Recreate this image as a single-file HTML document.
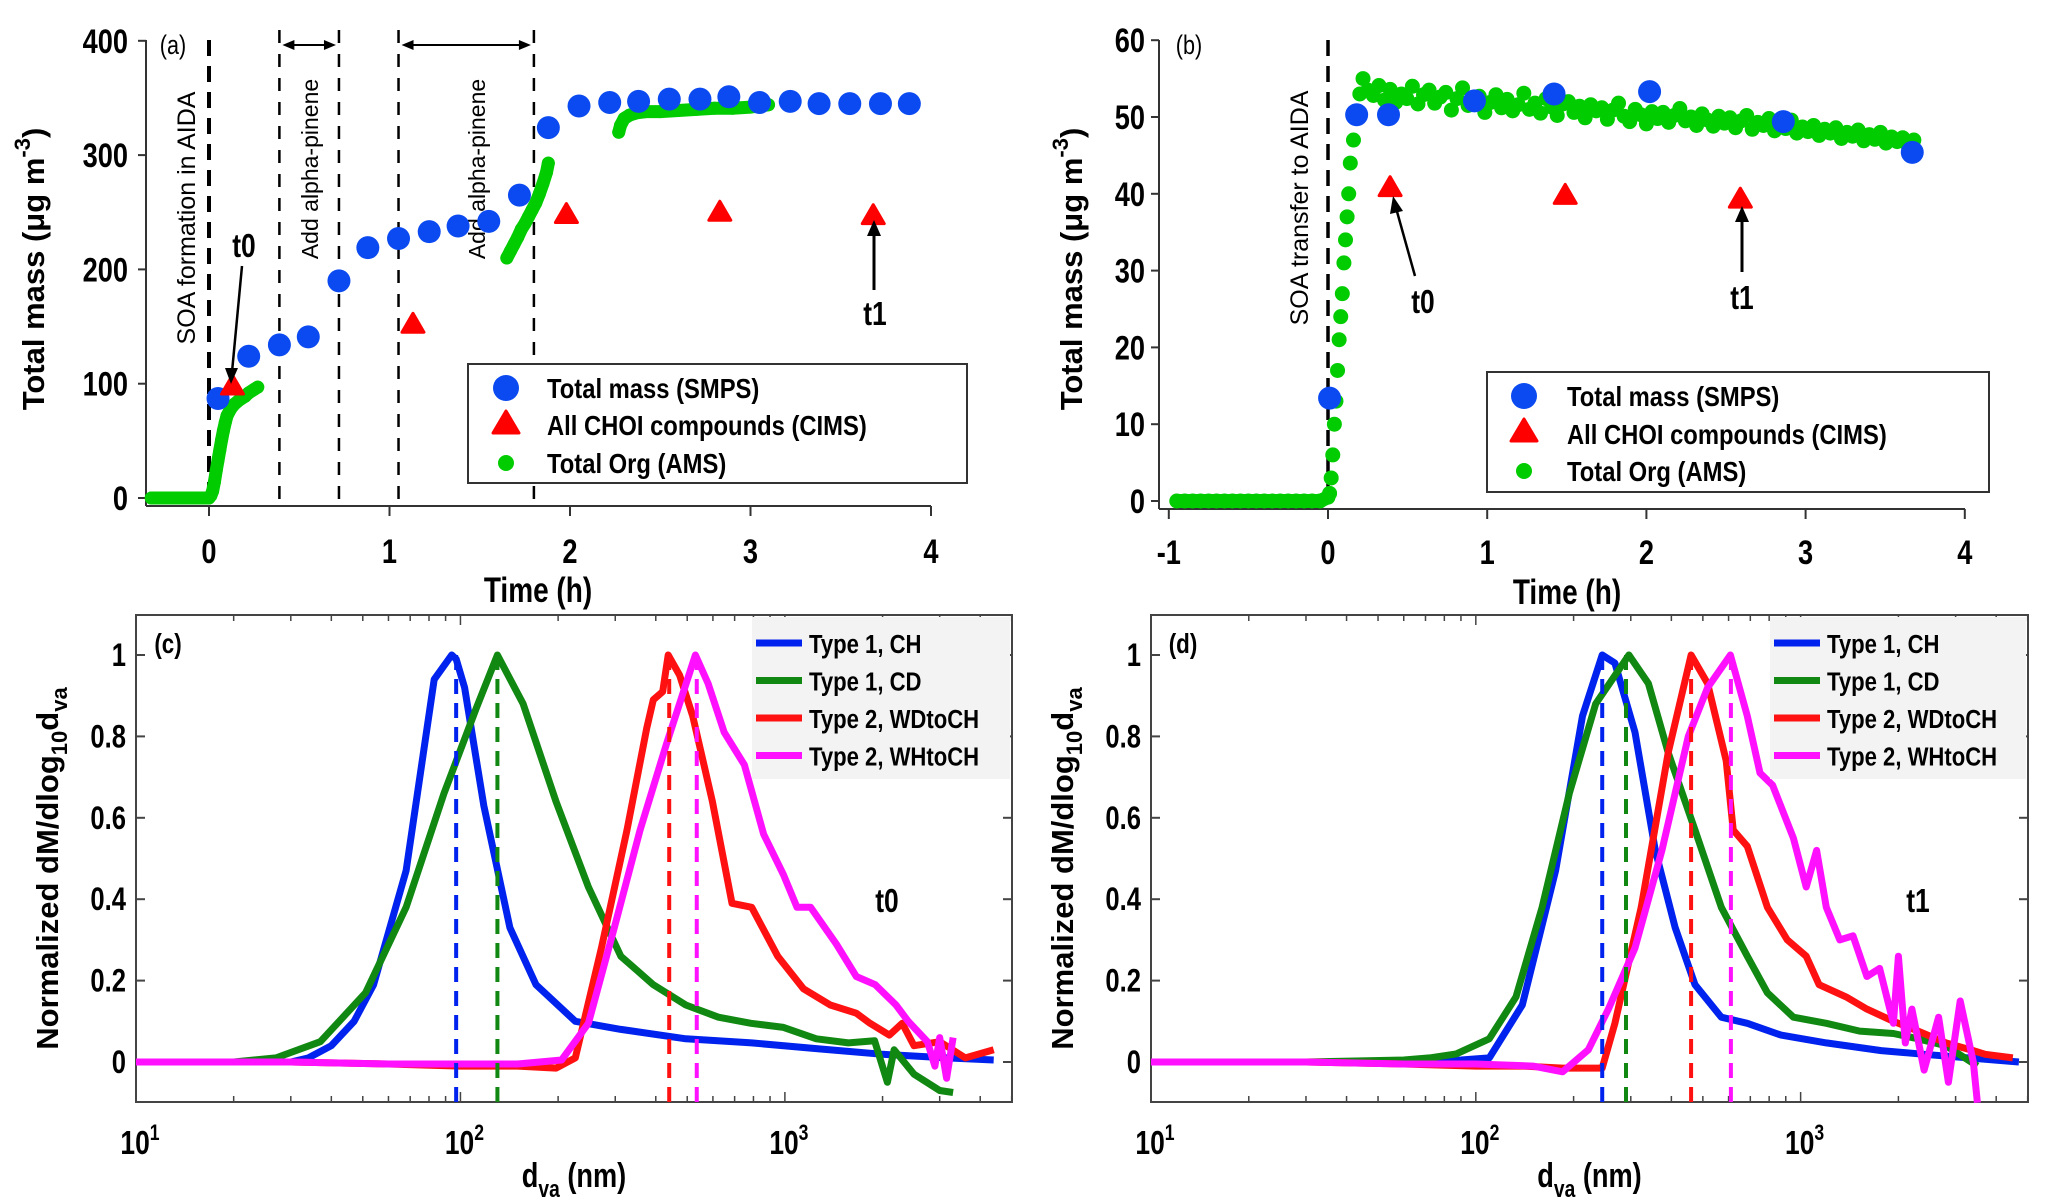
<!DOCTYPE html>
<html><head><meta charset="utf-8"><style>
html,body{margin:0;padding:0;background:#fff;}
svg{display:block;font-family:"Liberation Sans",Arial,sans-serif;}
</style></head><body>
<svg id="fig" width="2067" height="1204" viewBox="0 0 2067 1204" xmlns="http://www.w3.org/2000/svg"></svg>
<script>
// ---------- Panel (a) data ----------
const smpsATime=[0.05,0.22,0.39,0.55,0.72,0.88,1.05,1.22,1.38,1.55,1.72,1.88,2.05,2.22,2.38,2.55,2.72,2.88,3.05,3.22,3.38,3.55,3.72,3.88];
const smpsAVal=[87,124,134,141,190,219,227,233,238,242,265,324,343,346,347,349,349,351,346,347,345,345,345,345];
const cimsATime=[0.13,1.13,1.98,2.83,3.68];
const cimsAVal=[98,152,248,250,247];
const amsATime=[-0.32,-0.28,-0.24,-0.2,-0.16,-0.12,-0.08,-0.04,0,0.01,0.02,0.03,0.04,0.05,0.06,0.07,0.08,0.09,0.1,0.12,0.14,0.17,0.2,0.22,0.25,0.27,
 1.65,1.67,1.69,1.71,1.73,1.75,1.77,1.79,1.81,1.83,1.85,1.87,1.88,
 2.27,2.28,2.3,2.33,2.37,2.42,2.5,2.6,2.7,2.8,2.9,3.0,3.05,3.1];
const amsAVal=[0,0,0,0,0,0,0,0,0,2,6,14,24,33,42,51,59,66,72,78,82,86,89,92,95,97,
 210,216,222,228,235,240,246,252,258,266,275,285,293,
 320,326,332,335,337,338,338,339,340,341,341,342,343,344];
const eventsA=[0,0.39,0.72,1.05,1.8];
const yTicksA=[0,100,200,300,400];
const xTicksA=[0,1,2,3,4];
// ---------- Panel (b) data ----------
const smpsBTime=[0.01,0.18,0.38,0.92,1.42,2.02,2.86,3.67];
const smpsBVal=[13.4,50.3,50.3,52.1,53.0,53.3,49.4,45.4];
const cimsBTime=[0.39,1.49,2.59];
const cimsBVal=[40.8,39.8,39.3];
const amsBTime=[-0.95,-0.9,-0.85,-0.8,-0.75,-0.7,-0.65,-0.6,-0.55,-0.5,-0.45,-0.4,-0.35,-0.3,-0.25,-0.2,-0.15,-0.1,-0.05,0,0.01,0.02,0.03,0.04,0.05,0.06,0.07,0.08,0.09,0.1,0.11,0.12,0.13,0.14,0.16,0.18,0.2,0.22,
0.25,0.285,0.32,0.355,0.39,0.425,0.46,0.495,0.53,0.565,
0.6,0.635,0.67,0.705,0.74,0.775,0.81,0.845,0.88,0.915,
0.95,0.985,1.02,1.055,1.09,1.125,1.16,1.195,1.23,1.265,
1.3,1.335,1.37,1.405,1.44,1.475,1.51,1.545,1.58,1.615,
1.65,1.685,1.72,1.755,1.79,1.825,1.86,1.895,1.93,1.965,
2.0,2.035,2.07,2.105,2.14,2.175,2.21,2.245,2.28,2.315,
2.35,2.385,2.42,2.455,2.49,2.525,2.56,2.595,2.63,2.665,
2.7,2.735,2.77,2.805,2.84,2.875,2.91,2.945,2.98,3.015,
3.05,3.085,3.12,3.155,3.19,3.225,3.26,3.295,3.33,3.365,
3.4,3.435,3.47,3.505,3.54,3.575,3.61,3.645,3.68];
const amsBVal=[0,0,0,0,0,0,0,0,0,0,0,0,0,0,0,0,0,0,0,0.5,1,3,6,10,13,17,21,24,27,31,34,37,40,44,47,50,53,55,
53.5,52.8,54.1,52.2,53.6,51.9,53.0,52.4,54.0,51.7,
52.9,53.5,51.8,52.6,53.2,50.9,52.4,53.8,51.5,52.1,
52.7,50.6,51.9,52.9,51.2,52.3,50.8,51.6,53.1,51.0,
51.8,50.5,52.4,51.3,50.2,51.7,52.0,50.6,51.4,49.9,
51.6,50.8,51.2,49.7,50.9,51.8,50.1,49.4,51.0,50.3,
49.1,50.7,49.8,50.6,49.3,50.2,51.1,49.5,50.0,48.9,
50.4,49.6,48.8,50.1,49.2,49.9,48.6,49.5,50.2,48.4,
49.3,48.9,49.8,48.2,49.0,48.5,49.6,47.9,48.7,48.1,
48.9,47.6,48.4,47.9,48.6,47.2,48.0,47.5,48.3,46.9,
47.7,47.1,48.0,46.6,47.4,46.8,47.3,46.2,47.0];
const yTicksB=[0,10,20,30,40,50,60];
const xTicksB=[-1,0,1,2,3,4];
// ---------- Panel (c) data (t0) ----------
const cBlueD=[10,20,30,34,40,47,54,68,83,94,97,103,118,142,171,226,312,495,790,1250,2000,3150,4400];
const cBlueV=[0,0,0,0.01,0.04,0.10,0.19,0.47,0.94,1.0,0.99,0.92,0.63,0.33,0.19,0.10,0.08,0.057,0.047,0.033,0.019,0.01,0.005];
const cGreenD=[10,20,27,37,51,68,89,112,130,156,197,248,312,393,495,624,786,990,1250,1570,1890,2070,2170,2500,3000,3300];
const cGreenV=[0,0,0.01,0.05,0.17,0.38,0.66,0.87,1.0,0.88,0.64,0.43,0.26,0.19,0.14,0.11,0.095,0.085,0.057,0.047,0.052,-0.05,0.03,-0.03,-0.07,-0.075];
const cRedD=[10,30,60,100,150,197,226,272,326,375,393,420,437,474,520,598,687,790,950,1140,1380,1660,1830,2100,2300,2500,3000,3600,4400];
const cRedV=[0,0,-0.005,-0.01,-0.01,-0.015,0.01,0.28,0.57,0.82,0.89,0.91,1.0,0.95,0.85,0.64,0.39,0.38,0.26,0.18,0.14,0.12,0.095,0.066,0.095,0.04,0.05,0.01,0.03];
const cMagD=[10,30,60,100,150,205,248,298,358,431,530,580,650,750,860,990,1090,1200,1440,1660,1900,2200,2400,2750,2900,3000,3150,3300];
const cMagV=[0,0,-0.005,-0.005,-0.005,0.005,0.095,0.33,0.57,0.78,1.0,0.93,0.81,0.73,0.56,0.46,0.38,0.38,0.29,0.21,0.19,0.14,0.10,0.05,-0.01,0.06,-0.04,0.06];
const cModes=[97,130,440,535];
// ---------- Panel (d) data (t1) ----------
const dBlueD=[10,30,60,90,110,139,176,213,245,268,309,357,411,473,570,685,870,1200,1770,2400,4700];
const dBlueV=[0,0,0,0.005,0.01,0.14,0.47,0.85,1.0,0.98,0.81,0.52,0.33,0.19,0.11,0.095,0.066,0.047,0.028,0.019,0];
const dGreenD=[10,30,60,72,87,110,133,160,194,234,296,340,391,473,570,685,790,950,1200,1520,1930,2300,2800,3500];
const dGreenV=[0,0,0.005,0.01,0.02,0.057,0.16,0.38,0.66,0.88,1.0,0.93,0.76,0.57,0.38,0.26,0.17,0.11,0.095,0.076,0.07,0.057,0.04,-0.01];
const dRedD=[10,30,60,100,140,185,245,268,323,391,460,517,590,620,685,790,910,1040,1140,1380,1600,1930,2300,2800,3400,3700,4500];
const dRedV=[0,0,-0.005,-0.01,-0.01,-0.015,-0.015,0.095,0.38,0.76,1.0,0.93,0.74,0.57,0.53,0.38,0.30,0.26,0.19,0.16,0.13,0.10,0.076,0.047,0.028,0.019,0.01];
const dMagD=[10,30,60,100,150,185,222,256,309,374,451,517,608,685,750,820,950,1040,1120,1200,1320,1450,1600,1750,1930,2000,2100,2200,2400,2660,2850,3100,3400,3500];
const dMagV=[0,0,-0.005,-0.005,-0.01,-0.024,0.03,0.13,0.28,0.52,0.8,0.92,1.0,0.85,0.71,0.68,0.55,0.43,0.52,0.38,0.30,0.31,0.21,0.23,0.095,0.26,0.047,0.13,-0.02,0.11,-0.05,0.15,0,-0.1];
const dModes=[245,290,460,610];
const yTicksCD=[0,0.2,0.4,0.6,0.8,1];
const yTickLabelsCD=["0","0.2","0.4","0.6","0.8","1"];
const xDecades=[1,2,3];

// ---------- helpers ----------
const NS="http://www.w3.org/2000/svg";
const svg=document.getElementById('fig');
function mk(tag,attrs,parent){const e=document.createElementNS(NS,tag);for(const k in attrs)e.setAttribute(k,attrs[k]);(parent||svg).appendChild(e);return e;}
function grp(name){const g=mk('g',{});


return g;}
function txt(parent,x,y,s,size,opts){opts=opts||{};
 const sx=opts.sx||0.84;const rot=opts.rot||0;
 const t=mk('text',{transform:`translate(${x},${y}) rotate(${rot}) scale(${sx},1)`,'font-size':size,'font-weight':opts.w||'bold','text-anchor':opts.a||'middle',fill:'#000'},parent);
 t.textContent=s;return t;}

// ---------- Panel (a) ----------
(function(){
 const g=grp('panel-a');
 const xa=t=>209+180.5*t, ya=v=>498-1.143*v;
 mk('line',{x1:146,y1:40,x2:146,y2:506,stroke:'#333','stroke-width':2},g);
 mk('line',{x1:146,y1:506,x2:931,y2:506,stroke:'#333','stroke-width':2},g);
 yTicksA.forEach(v=>{mk('line',{x1:138,y1:ya(v),x2:146,y2:ya(v),stroke:'#333','stroke-width':2},g);
  txt(g,128,ya(v)+12,String(v),34,{a:'end',sx:0.8});});
 xTicksA.forEach(t=>{mk('line',{x1:xa(t),y1:506,x2:xa(t),y2:516,stroke:'#333','stroke-width':2},g);
  txt(g,xa(t),563,String(t),34,{sx:0.8});});
 txt(g,538,602,'Time (h)',35,{sx:0.8});
 const yl=txt(g,44,269,'',31,{rot:-90,sx:1});
 yl.innerHTML='Total mass (μg m<tspan font-size="22" dy="-14">-3</tspan><tspan dy="14">)</tspan>';
 txt(g,173,54,'(a)',27,{sx:0.8,w:'normal'});
 eventsA.forEach((t,i)=>{const l=mk('line',{x1:xa(t),y1:i===0?40:30,x2:xa(t),y2:i===0?498:506,stroke:'#000','stroke-width':i===0?4:2.5,'stroke-dasharray':i===0?'16,10':'13,11'},g);
  
  });
 [[0.39,0.72],[1.05,1.8]].forEach(p=>{const y=45,x1=xa(p[0])+3,x2=xa(p[1])-3;
  mk('line',{x1:x1+8,y1:y,x2:x2-8,y2:y,stroke:'#000','stroke-width':2},g);
  mk('polygon',{points:`${x1},${y} ${x1+12},${y-5} ${x1+12},${y+5}`,fill:'#000'},g);
  mk('polygon',{points:`${x2},${y} ${x2-12},${y-5} ${x2-12},${y+5}`,fill:'#000'},g);});
 txt(g,195,218,'SOA formation in AIDA',25,{rot:-90,w:'normal',sx:1});
 txt(g,318,169,'Add alpha-pinene',23,{rot:-90,w:'normal',sx:1});
 txt(g,485,169,'Add alpha-pinene',23,{rot:-90,w:'normal',sx:1});
 amsATime.forEach((t,i)=>{const c=mk('circle',{cx:xa(t),cy:ya(amsAVal[i]),r:6.5,fill:'#00cc00'},g);
  
  });
 [[0,25],[26,38],[39,52]].forEach(s=>{let pts=[];for(let i=s[0];i<=s[1];i++)pts.push(xa(amsATime[i])+','+ya(amsAVal[i]));
  mk('polyline',{points:pts.join(' '),fill:'none',stroke:'#00cc00','stroke-width':13,'stroke-linecap':'round','stroke-linejoin':'round'},g);});
 smpsATime.forEach((t,i)=>{const c=mk('circle',{cx:xa(t),cy:ya(smpsAVal[i]),r:11.5,fill:'#0a4af0'},g);
  
  });
 cimsATime.forEach((t,i)=>{const x=xa(t),y=ya(cimsAVal[i]);const p=mk('polygon',{points:`${x},${y-11} ${x+11},${y+8} ${x-11},${y+8}`,fill:'#f00',stroke:'#f00','stroke-width':3,'stroke-linejoin':'round'},g);
  
  });
 txt(g,244,257,'t0',33,{sx:0.8});
 mk('line',{x1:242,y1:266,x2:232,y2:372,stroke:'#000','stroke-width':2.5},g);
 mk('polygon',{points:'231,384 225,368 238,368',fill:'#000'},g);
 txt(g,875,325,'t1',33,{sx:0.8});
 mk('line',{x1:874,y1:290,x2:874,y2:232,stroke:'#000','stroke-width':3},g);
 mk('polygon',{points:'874,220 867,236 881,236',fill:'#000'},g);
 const lg=grp('legend-a');g.appendChild(lg);
 mk('rect',{x:468,y:364,width:499,height:119,fill:'#fff',stroke:'#333','stroke-width':2},lg);
 mk('circle',{cx:506,cy:388,r:13,fill:'#0a4af0'},lg);
 mk('polygon',{points:'506,411 519,433 493,433',fill:'#f00',stroke:'#f00','stroke-width':3,'stroke-linejoin':'round'},lg);
 mk('circle',{cx:506,cy:463,r:8,fill:'#00cc00'},lg);
 txt(lg,547,398,'Total mass (SMPS)',28,{a:'start',sx:0.85});
 txt(lg,547,435,'All CHOI compounds (CIMS)',28,{a:'start',sx:0.85});
 txt(lg,547,473,'Total Org (AMS)',28,{a:'start',sx:0.85});
})();

// ---------- Panel (b) ----------
(function(){
 const g=grp('panel-b');
 const xb=t=>1328+159.2*t, yb=v=>501-7.68*v;
 mk('line',{x1:1159,y1:40,x2:1159,y2:509,stroke:'#333','stroke-width':2},g);
 mk('line',{x1:1159,y1:509,x2:1965,y2:509,stroke:'#333','stroke-width':2},g);
 yTicksB.forEach(v=>{mk('line',{x1:1151,y1:yb(v),x2:1159,y2:yb(v),stroke:'#333','stroke-width':2},g);
  txt(g,1145,yb(v)+12,String(v),34,{a:'end',sx:0.8});});
 xTicksB.forEach(t=>{mk('line',{x1:xb(t),y1:509,x2:xb(t),y2:519,stroke:'#333','stroke-width':2},g);
  txt(g,xb(t),564,String(t),34,{sx:0.8});});
 txt(g,1567,604,'Time (h)',35,{sx:0.8});
 const yl=txt(g,1082,269,'',31,{rot:-90,sx:1});
 yl.innerHTML='Total mass (μg m<tspan font-size="22" dy="-14">-3</tspan><tspan dy="14">)</tspan>';
 txt(g,1189,54,'(b)',27,{sx:0.8,w:'normal'});
 mk('line',{x1:xb(0),y1:40,x2:xb(0),y2:501,stroke:'#000','stroke-width':3.5,'stroke-dasharray':'16,10'},g);
 txt(g,1308,208,'SOA transfer to AIDA',25,{rot:-90,w:'normal',sx:1});
 let zpts=[];for(let i=0;i<20;i++)zpts.push(xb(amsBTime[i])+','+yb(amsBVal[i]));
 mk('polyline',{points:zpts.join(' '),fill:'none',stroke:'#00cc00','stroke-width':14,'stroke-linecap':'round'},g);
 amsBTime.forEach((t,i)=>{const c=mk('circle',{cx:xb(t),cy:yb(amsBVal[i]),r:7.5,fill:'#00cc00'},g);
  
  });
 smpsBTime.forEach((t,i)=>{const c=mk('circle',{cx:xb(t),cy:yb(smpsBVal[i]),r:11.5,fill:'#0a4af0'},g);
  
  });
 cimsBTime.forEach((t,i)=>{const x=xb(t),y=yb(cimsBVal[i]);const p=mk('polygon',{points:`${x},${y-11} ${x+11},${y+8} ${x-11},${y+8}`,fill:'#f00',stroke:'#f00','stroke-width':3,'stroke-linejoin':'round'},g);
  
  });
 txt(g,1423,313,'t0',33,{sx:0.8});
 mk('line',{x1:1415,y1:276,x2:1396,y2:208,stroke:'#000','stroke-width':2.5},g);
 mk('polygon',{points:'1393,196 1390,214 1403,211',fill:'#000'},g);
 txt(g,1742,309,'t1',33,{sx:0.8});
 mk('line',{x1:1742,y1:272,x2:1742,y2:218,stroke:'#000','stroke-width':3},g);
 mk('polygon',{points:'1742,206 1735,222 1749,222',fill:'#000'},g);
 const lg=grp('legend-b');g.appendChild(lg);
 mk('rect',{x:1487,y:372,width:502,height:120,fill:'#fff',stroke:'#333','stroke-width':2},lg);
 mk('circle',{cx:1524,cy:396,r:13,fill:'#0a4af0'},lg);
 mk('polygon',{points:'1524,419 1537,441 1511,441',fill:'#f00',stroke:'#f00','stroke-width':3,'stroke-linejoin':'round'},lg);
 mk('circle',{cx:1524,cy:471,r:8,fill:'#00cc00'},lg);
 txt(lg,1567,406,'Total mass (SMPS)',28,{a:'start',sx:0.85});
 txt(lg,1567,444,'All CHOI compounds (CIMS)',28,{a:'start',sx:0.85});
 txt(lg,1567,481,'Total Org (AMS)',28,{a:'start',sx:0.85});
})();

// ---------- Panels (c),(d) ----------
function sizePanel(name,L,R,label,tlabel,tx,series,modes,legX){
 const g=grp(name);
 const T=615,B=1102;
 const lx=d=>L+(R-L)*(Math.log10(d)-1)/2.7, ly=v=>1062-407*v;
 mk('rect',{x:L,y:T,width:R-L,height:B-T,fill:'#fff',stroke:'#444','stroke-width':2},g);
 yTicksCD.forEach((v,i)=>{mk('line',{x1:L,y1:ly(v),x2:L+9,y2:ly(v),stroke:'#444','stroke-width':2},g);
  mk('line',{x1:R,y1:ly(v),x2:R-9,y2:ly(v),stroke:'#444','stroke-width':2},g);
  txt(g,L-10,ly(v)+11,yTickLabelsCD[i],32,{a:'end',sx:0.8});});
 for(let e=1;e<=3;e++){for(let m=1;m<=9;m++){const d=m*Math.pow(10,e);if(Math.log10(d)>3.7)continue;const x=lx(d);const len=m===1?10:6;
  mk('line',{x1:x,y1:B,x2:x,y2:B-len,stroke:'#444','stroke-width':1.5},g);
  mk('line',{x1:x,y1:T,x2:x,y2:T+len,stroke:'#444','stroke-width':1.5},g);}}
 xDecades.forEach(e=>{const t=txt(g,lx(Math.pow(10,e))+4,1154,'',33,{sx:0.8});
  t.innerHTML='10<tspan font-size="22" dy="-14">'+e+'</tspan>';});
 const xl=txt(g,(L+R)/2,1187,'',34,{sx:0.8});
 xl.innerHTML='d<tspan font-size="24" dy="10">va</tspan><tspan dy="-10"> (nm)</tspan>';
 const yl=txt(g,L-78,(T+B)/2+10,'',31,{rot:-90,sx:1});
 yl.innerHTML='Normalized dM/dlog<tspan font-size="22" dy="9">10</tspan><tspan dy="-9">d</tspan><tspan font-size="22" dy="9">va</tspan>';
 txt(g,L+32,T+38,label,28,{sx:0.8});
 txt(g,tx,912,tlabel,33,{sx:0.8});
 const cols=['#0022ee','#118811','#ff1111','#ff11ff'];
 series.forEach((s,k)=>{const pts=s[0].map((d,i)=>lx(d).toFixed(1)+','+ly(s[1][i]).toFixed(1)).join(' ');
  const p=mk('polyline',{points:pts,fill:'none',stroke:cols[k],'stroke-width':7,'stroke-linejoin':'round'},g);
  
  });
 modes.forEach((d,k)=>{const l=mk('line',{x1:lx(d),y1:ly(1),x2:lx(d),y2:B,stroke:cols[k],'stroke-width':4,'stroke-dasharray':'15,9'},g);
  
  });
 const lg=grp('legend-'+name);g.appendChild(lg);
 mk('rect',{x:legX,y:T+2,width:R-legX-2,height:162,fill:'#f3f3f3'},lg);
 const names=['Type 1, CH','Type 1, CD','Type 2, WDtoCH','Type 2, WHtoCH'];
 names.forEach((n,k)=>{const y=T+28+37.5*k;
  mk('line',{x1:legX+4,y1:y,x2:legX+50,y2:y,stroke:cols[k],'stroke-width':7},lg);
  txt(lg,legX+57,y+10,n,26,{a:'start',sx:0.85});});
}
sizePanel('panel-c',136,1012,'(c)','t0',887,[[cBlueD,cBlueV],[cGreenD,cGreenV],[cRedD,cRedV],[cMagD,cMagV]],cModes,752);
sizePanel('panel-d',1151,2028,'(d)','t1',1918,[[dBlueD,dBlueV],[dGreenD,dGreenV],[dRedD,dRedV],[dMagD,dMagV]],dModes,1770);
</script>
</body></html>
